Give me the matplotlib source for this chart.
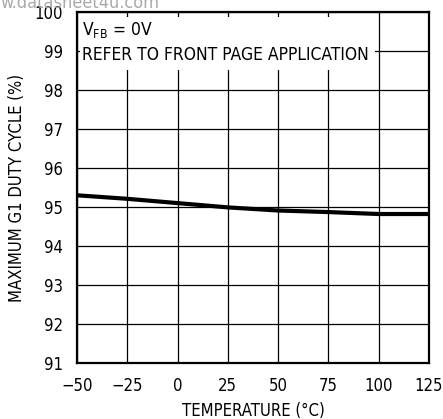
import numpy as np
import matplotlib.pyplot as plt
from matplotlib.patches import Rectangle

plt.rcParams['font.family'] = ['DejaVu Sans']
plt.rcParams['font.stretch'] = 'condensed'

# Datos
temp_c = [-50, -25, 0, 25, 50, 75, 100, 125]
duty_pct = [95.30, 95.21, 95.10, 94.99, 94.91, 94.87, 94.82, 94.82]

x_ticks = [-50, -25, 0, 25, 50, 75, 100, 125]
x_labels = ['\u221250', '\u221225', '0', '25', '50', '75', '100', '125']
y_ticks = [91, 92, 93, 94, 95, 96, 97, 98, 99, 100]

W, H = 443, 419
fig = plt.figure(figsize=(W / 100, H / 100), dpi=100)
ax = fig.add_axes([77 / W, 1 - 363 / H, 352 / W, 351 / H])

ax.plot(temp_c, duty_pct, color='black', lw=3, solid_capstyle='butt', zorder=3)

ax.set_xlim(-50, 125)
ax.set_ylim(91, 100)
ax.set_xticks(x_ticks)
ax.set_xticklabels(x_labels)
ax.set_yticks(y_ticks)
ax.grid(True, color='black', lw=0.9)
ax.tick_params(length=0, labelsize=12, pad=10, colors='black')
for s in ax.spines.values():
    s.set_linewidth(1.6)

ax.set_xlabel('TEMPERATURE (\u00b0C)', fontsize=12, labelpad=5)
ax.set_ylabel('MAXIMUM G1 DUTY CYCLE (%)', fontsize=12, labelpad=6)

# Fondo blanco de la nota
ax.add_patch(Rectangle((3 / 352, 1 - 58 / 351), 295 / 352, 53 / 351,
                       transform=ax.transAxes, facecolor='white',
                       edgecolor='none', zorder=2.5))
ax.text(5 / 352, 1 - 23 / 351, '$\\mathregular{V_{FB}}$ = 0V', fontsize=12.5,
        transform=ax.transAxes, va='baseline', ha='left', zorder=4)
ax.text(5 / 352, 1 - 48 / 351, 'REFER TO FRONT PAGE APPLICATION', fontsize=12.5,
        transform=ax.transAxes, va='baseline', ha='left', zorder=4)

fig.text(0.0, 1 - 8 / H, 'w.datasheet4u.com', fontsize=13, color='#aaaaaa',
         va='baseline', ha='left', zorder=0)

plt.savefig('out.png', dpi=100)
